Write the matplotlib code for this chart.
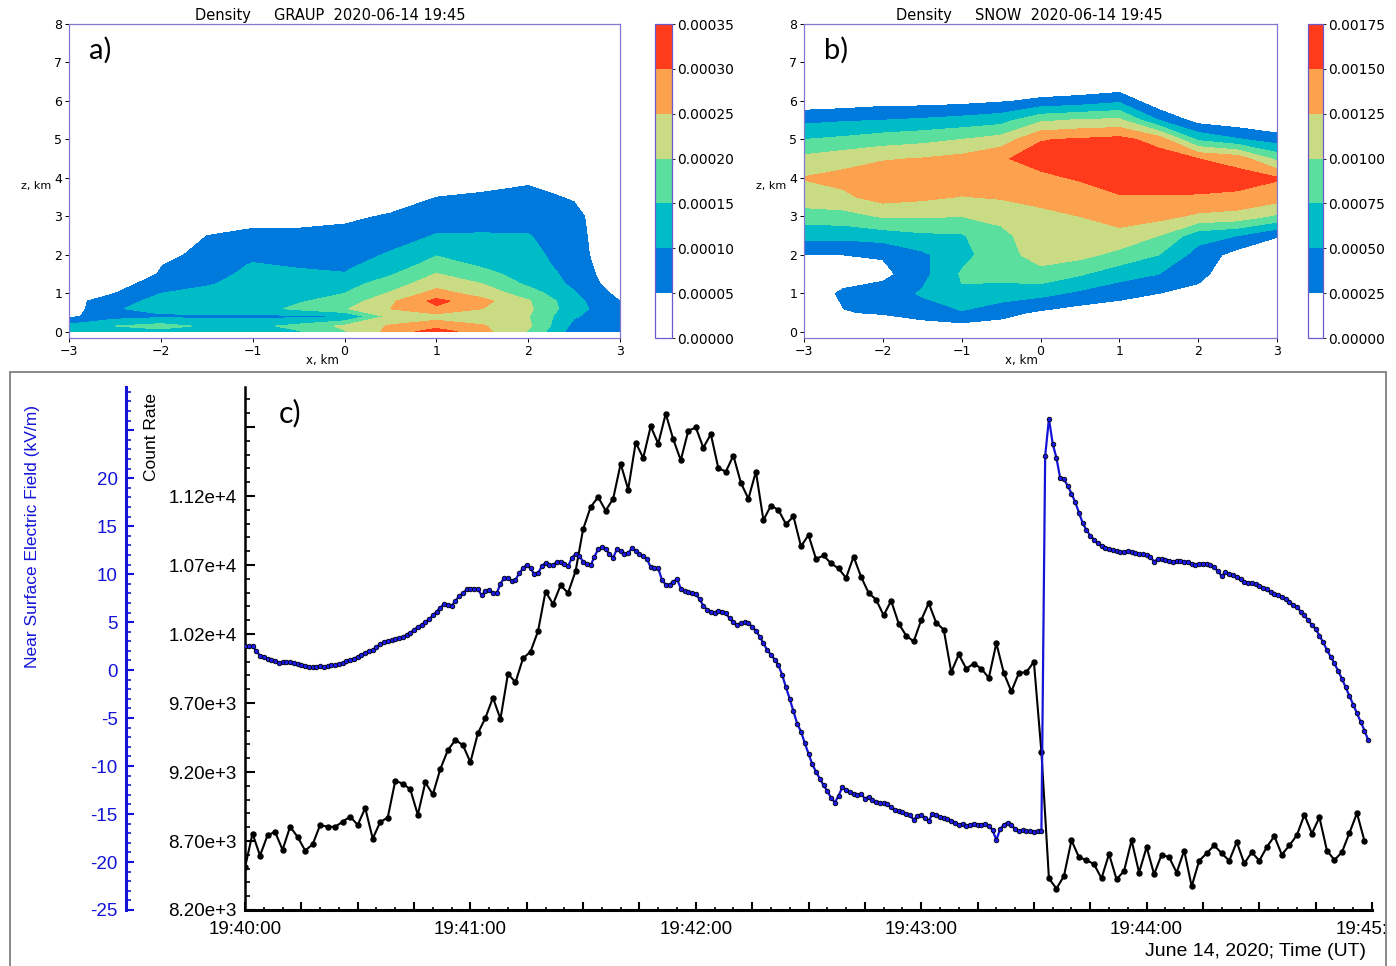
import numpy as np
import matplotlib
matplotlib.use("Agg")
import matplotlib.pyplot as plt
from matplotlib.ticker import MultipleLocator
from matplotlib.patches import Rectangle
from matplotlib.transforms import Bbox, TransformedBbox

# ---------------- panel a / b : density cross sections ----------------
x_km = [-3, -2.5, -2, -1.5, -1, -0.5, 0, 0.5, 1, 1.5, 2, 2.5, 3]

# graupel, in units of 5e-5, one list per x column (bottom -> top)
graup_z = [0, 0.15, 0.4, 0.6, 0.8, 1.0, 1.25, 1.5, 1.75, 2.0, 2.5, 3.0, 3.5, 4.0, 8.0]
graup_cols = [
    [2.6, 2.3, 0.8, 0.5, 0.6, 0.2, 0, 0, 0, 0, 0, 0, 0, 0, 0],
    [2.8, 3.0, 1.6, 1.9, 1.6, 1.0, 0.4, 0, 0, 0, 0, 0, 0, 0, 0],
    [2.6, 3.4, 1.8, 2.4, 2.3, 2.0, 1.7, 1.1, 0.95, 0.6, 0, 0, 0, 0, 0],
    [2.4, 2.8, 1.8, 2.5, 2.5, 2.3, 1.9, 1.7, 1.6, 1.4, 1.0, 0.3, 0, 0, 0],
    [2.4, 2.7, 1.8, 2.6, 2.7, 2.6, 2.4, 2.2, 2.05, 1.8, 1.3, 0.5, 0, 0, 0],
    [2.9, 3.3, 1.8, 3.2, 2.9, 2.6, 2.4, 2.15, 1.9, 1.7, 1.25, 0.6, 0, 0, 0],
    [3.9, 4.2, 2.0, 3.9, 3.4, 3.0, 2.6, 2.05, 1.8, 1.6, 1.3, 0.8, 0, 0, 0],
    [5.3, 5.1, 4.3, 5.0, 4.8, 4.1, 3.5, 2.9, 2.4, 2.1, 1.6, 1.1, 0.5, 0, 0],
    [6.6, 5.6, 4.6, 5.8, 6.3, 5.4, 4.6, 4.05, 3.4, 2.95, 2.05, 1.6, 1.0, 0.3, 0],
    [5.3, 5.1, 4.4, 5.0, 5.3, 4.6, 4.0, 3.3, 2.85, 2.6, 2.05, 1.7, 1.2, 0.4, 0],
    [3.9, 4.2, 4.05, 4.2, 4.1, 3.5, 2.8, 2.6, 2.4, 2.3, 2.05, 1.6, 1.3, 0.8, 0],
    [1.5, 1.7, 2.1, 2.4, 2.3, 2.1, 1.8, 1.7, 1.6, 1.5, 1.4, 1.3, 0.9, 0.3, 0],
    [1.3, 1.3, 1.25, 1.15, 1.0, 0.7, 0.4, 0.2, 0.1, 0, 0, 0, 0, 0, 0],
]
graup_unit = 5e-5
graup_levels = [0, 0.00005, 0.0001, 0.00015, 0.0002, 0.00025, 0.0003, 0.00035]

# snow, in units of 2.5e-4
snow_z = [0, 0.5, 1.0, 1.5, 2.0, 2.5, 3.0, 3.5, 4.0, 4.5, 5.0, 5.5, 6.0, 6.5, 8.0]
snow_cols = [
    [0, 0, 0.2, 0.3, 1.0, 2.3, 3.5, 4.6, 5.05, 4.25, 3.0, 1.75, 0.3, 0, 0],
    [0, 0.95, 1.2, 0.4, 1.0, 2.3, 3.6, 4.8, 5.3, 4.6, 3.2, 1.9, 0.4, 0, 0],
    [0, 1.1, 1.5, 0.7, 1.1, 2.5, 4.1, 5.4, 5.7, 4.9, 3.5, 2.0, 0.6, 0, 0],
    [0, 1.6, 2.1, 1.7, 1.8, 2.8, 4.1, 5.2, 5.8, 5.05, 3.7, 2.15, 0.6, 0, 0],
    [0.2, 1.9, 2.9, 3.1, 2.7, 2.9, 4.0, 4.95, 5.7, 5.3, 4.0, 2.35, 0.7, 0, 0],
    [0.4, 1.3, 2.6, 3.3, 3.6, 3.8, 4.2, 5.1, 5.8, 5.9, 4.4, 2.6, 0.9, 0, 0],
    [0, 0.85, 2.3, 3.7, 4.4, 4.45, 4.6, 5.45, 5.8, 6.35, 5.95, 3.8, 1.2, 0, 0],
    [0, 0.5, 1.8, 3.1, 4.3, 4.6, 5.0, 5.5, 6.1, 6.6, 6.1, 4.1, 1.4, 0, 0],
    [0, 0.3, 1.4, 2.4, 3.7, 4.7, 5.4, 5.9, 6.6, 6.7, 6.3, 4.2, 1.8, 0, 0],
    [0, 0.2, 1.0, 2.0, 3.0, 4.0, 5.3, 5.9, 6.6, 6.5, 5.6, 2.0, 0.2, 0, 0],
    [0, 0, 0.6, 1.4, 1.6, 2.4, 4.8, 5.9, 6.5, 6.0, 2.8, 0.6, 0, 0, 0],
    [0, 0, 0, 0, 0.6, 2.0, 4.6, 5.8, 6.4, 5.6, 2.1, 0.3, 0, 0, 0],
    [0, 0, 0, 0, 0, 1.1, 3.8, 5.5, 6.1, 3.7, 1.5, 0, 0, 0, 0],
]
snow_unit = 2.5e-4
snow_levels = [0, 0.00025, 0.0005, 0.00075, 0.001, 0.00125, 0.0015, 0.00175]

band_colors = ["#ffffff", "#0079dc", "#00bcc6", "#5adf9f", "#c9dc83", "#fca24e", "#ff3b1b"]

# ---------------- panel c : time series ----------------
count_step = 2   # s
count_rate = [
    8508, 8754, 8594, 8742, 8766, 8636, 8803, 8730, 8631, 8675,
    8816, 8803, 8803, 8840, 8877, 8816, 8939, 8717, 8838, 8870,
    9136, 9116, 9074, 8890, 9124, 9037, 9222, 9358, 9432, 9395,
    9271, 9481, 9592, 9739, 9584, 9912, 9850, 10023, 10072, 10220,
    10508, 10417, 10552, 10498, 10656, 10959, 11119, 11193, 11094, 11180,
    11434, 11247, 11587, 11476, 11705, 11579, 11796, 11611, 11459, 11673,
    11697, 11550, 11648, 11402, 11377, 11493, 11296, 11180, 11377, 11025,
    11131, 11099, 10996, 11052, 10835, 10917, 10744, 10769, 10712, 10675,
    10606, 10761, 10614, 10498, 10449, 10335, 10441, 10276, 10188, 10146,
    10301, 10424, 10281, 10232, 9924, 10052, 9949, 9986, 9949, 9882,
    10133, 9917, 9784, 9917, 9924, 9998, 9345, 8429, 8355, 8446,
    8705, 8582, 8562, 8532, 8429, 8606, 8422, 8483, 8705, 8471,
    8656, 8459, 8601, 8582, 8471, 8631, 8372, 8557, 8611, 8668,
    8611, 8557, 8693, 8537, 8619, 8557, 8656, 8735, 8601, 8668,
    8742, 8890, 8754, 8872, 8631, 8562, 8619, 8759, 8902, 8700,
]

field_step = 1   # s
e_field = [
    2.5, 2.5, 2.5, 2.0, 1.5, 1.4, 1.2, 1.1, 0.9, 0.7,
    0.8, 0.8, 0.8, 0.7, 0.6, 0.5, 0.4, 0.3, 0.3, 0.3,
    0.4, 0.3, 0.4, 0.5, 0.5, 0.6, 0.7, 0.9, 1.0, 1.2,
    1.4, 1.6, 1.8, 2.0, 2.1, 2.4, 2.7, 2.9, 3.0, 3.1,
    3.2, 3.3, 3.4, 3.7, 3.9, 4.2, 4.5, 4.7, 5.0, 5.3,
    5.7, 6.1, 6.5, 6.9, 6.8, 6.7, 7.2, 7.7, 8.0, 8.4,
    8.5, 8.5, 8.4, 7.8, 8.2, 8.3, 8.0, 8.0, 9.0, 9.6,
    9.6, 9.3, 9.4, 10.1, 10.6, 11.0, 10.6, 10.0, 10.1, 10.8,
    11.2, 10.9, 10.9, 11.3, 11.3, 11.1, 10.8, 11.7, 12.1, 11.9,
    11.3, 11.1, 10.9, 11.8, 12.6, 12.8, 12.6, 12.1, 11.7, 12.6,
    12.4, 12.1, 12.2, 12.7, 12.4, 12.1, 11.9, 11.6, 10.7, 10.6,
    10.6, 9.4, 8.9, 8.9, 9.2, 9.5, 8.5, 8.2, 8.1, 8.0,
    7.9, 7.4, 6.7, 6.3, 6.1, 6.0, 6.2, 6.1, 5.9, 5.4,
    5.0, 4.7, 4.9, 5.0, 4.9, 4.5, 4.1, 3.5, 2.8, 2.1,
    1.6, 1.1, 0.5, -0.5, -1.8, -3.0, -4.3, -5.6, -6.4, -7.6,
    -8.7, -9.8, -10.6, -11.3, -12.0, -12.6, -13.3, -13.8, -13.1, -12.2,
    -12.5, -12.7, -12.9, -13.0, -12.9, -13.4, -13.2, -13.5, -13.7, -13.8,
    -13.9, -14.0, -14.3, -14.6, -14.7, -14.8, -15.0, -15.1, -15.6, -15.2,
    -15.1, -15.4, -15.7, -15.0, -15.1, -15.3, -15.4, -15.5, -15.7, -15.9,
    -16.1, -16.0, -16.2, -16.1, -16.0, -16.1, -16.1, -16.0, -16.2, -16.7,
    -17.7, -16.6, -16.1, -15.9, -16.1, -16.6, -16.8, -16.7, -16.8, -16.8,
    -16.9, -16.8, -16.8, 22.3, 26.2, 23.6, 22.1, 20.0, 19.9, 19.2,
    18.4, 17.5, 16.4, 15.3, 14.6, 14.0, 13.6, 13.2, 12.9, 12.7,
    12.6, 12.5, 12.4, 12.3, 12.3, 12.4, 12.3, 12.2, 12.1, 12.1,
    12.0, 11.8, 11.3, 11.6, 11.6, 11.5, 11.4, 11.3, 11.4, 11.4,
    11.3, 11.3, 11.1, 11.0, 11.1, 11.1, 11.1, 10.9, 10.7, 10.3,
    9.8, 10.2, 10.0, 9.9, 9.7, 9.5, 9.2, 9.1, 9.1, 9.0,
    8.8, 8.6, 8.4, 8.1, 7.9, 7.8, 7.6, 7.4, 7.1, 6.8,
    6.6, 6.1, 5.7, 5.2, 4.7, 4.3, 3.6, 2.9, 2.1, 1.4,
    0.7, -0.1, -0.9, -1.8, -2.7, -3.6, -4.5, -5.4, -6.3, -7.3,
]

count_ticks = [8200, 8700, 9200, 9700, 10200, 10700, 11200, 11700]
count_labels = ["8.20e+3", "8.70e+3", "9.20e+3", "9.70e+3", "1.02e+4", "1.07e+4", "1.12e+4", ""]
field_ticks = [-25, -20, -15, -10, -5, 0, 5, 10, 15, 20, 25]
field_labels = ["-25", "-20", "-15", "-10", "-5", "0", "5", "10", "15", "20", ""]
minute_labels = ["19:40:00", "19:41:00", "19:42:00", "19:43:00", "19:44:00", "19:45:00"]

W, H = 1396, 966
fig = plt.figure(figsize=(W / 100, H / 100), dpi=100)


def px_axes(x0, y0, x1, y1):
    return fig.add_axes([x0 / W, 1 - y1 / H, (x1 - x0) / W, (y1 - y0) / H])


def density_panel(box, cbox, zs, cols, unit, levels, title, title_x, tag):
    ax = px_axes(*box)
    cax = px_axes(*cbox)
    width = box[2] - box[0]
    field = np.array(cols).T * unit
    cs = ax.contourf(x_km, zs, field, levels=levels, colors=band_colors)
    ax.set_xlim(-3, 3)
    ax.set_ylim(-0.16, 8)
    ax.set_xticks(range(-3, 4))
    ax.set_yticks(range(0, 9))
    ax.tick_params(labelsize=9, length=3, width=0.7, pad=2)
    for s in ax.spines.values():
        s.set_color("#8078d0")
        s.set_linewidth(0.9)
    ax.text((title_x - box[0]) / width, 1.026, title,
            transform=ax.transAxes, ha="center", va="center", fontsize=10.5)
    ax.text(20 / width, 0.915, tag, transform=ax.transAxes, fontsize=21,
            family="Lato", va="center")
    ax.text(-18 / width, 0.484, "z, km", transform=ax.transAxes, ha="right",
            va="center", fontsize=8)
    ax.text(0.46, -0.072, "x, km", transform=ax.transAxes, ha="center",
            va="center", fontsize=8.5)
    cb = fig.colorbar(cs, cax=cax, ticks=levels)
    cb.ax.set_yticklabels([f"{v:.5f}" for v in levels])
    cb.ax.tick_params(labelsize=10, length=2, width=0.6, pad=1.5)
    cb.outline.set_edgecolor("#6a5acd")
    cb.outline.set_linewidth(0.9)
    return ax


density_panel((69, 24, 620, 338), (655, 24, 672, 338), graup_z, graup_cols,
              graup_unit, graup_levels, "Density     GRAUP  2020-06-14 19:45", 330, "a)")
density_panel((804, 24, 1277, 338), (1308, 24, 1323, 338), snow_z, snow_cols,
              snow_unit, snow_levels, "Density     SNOW  2020-06-14 19:45", 1029, "b)")

# frame around panel c
fig.patches.append(Rectangle((10 / W, -10 / H), 1376 / W, (966 + 10 - 372) / H,
                             transform=fig.transFigure, fill=False,
                             edgecolor="#808080", linewidth=1.3))

blue = "#1414d8"
font_c = "Liberation Sans"

ax_c = px_axes(245, 387, 1372, 910)
t_count = np.arange(len(count_rate)) * count_step
t_field = np.arange(len(e_field)) * field_step
ax_c.plot(t_count, count_rate, color="black", lw=1.5, marker="o", ms=3.6, zorder=3)
ax_c.set_xlim(0, 300)
ax_c.set_ylim(8200, 11990)
ax_c.spines[["top", "right"]].set_visible(False)
ax_c.spines["left"].set_linewidth(1.8)
ax_c.spines["bottom"].set_linewidth(2.2)
ax_c.set_yticks(count_ticks, count_labels, fontsize=13.5, fontfamily=font_c)
ax_c.yaxis.set_minor_locator(MultipleLocator(100))
time_ticks = list(range(0, 301, 15))
time_labels = [minute_labels[t // 60] if t % 60 == 0 else "" for t in time_ticks]
ax_c.set_xticks(time_ticks, time_labels, fontsize=13.5, fontfamily=font_c)
ax_c.xaxis.set_minor_locator(MultipleLocator(5))
ax_c.tick_params(which="major", direction="in", length=7, width=1.5, pad=6)
ax_c.tick_params(which="minor", direction="in", length=3.5, width=1.2)
ax_c.tick_params(axis="x", which="major", length=6, pad=8)
ax_c.tick_params(axis="x", which="minor", length=2.5)

ax_e = ax_c.twinx()
ax_e.plot(t_field, e_field, color=blue, lw=1.6, marker="o", ms=3.3,
          mfc="#1c1cf0", mec="black", mew=0.6)
ax_e.set_ylim(-25, 29.5)
ax_e.spines[["top", "bottom", "right"]].set_visible(False)
ax_e.spines["left"].set_visible(True)
ax_e.spines["left"].set_position(("axes", (126 - 245) / (1372 - 245)))
ax_e.spines["left"].set_color(blue)
ax_e.spines["left"].set_linewidth(2.2)
ax_e.yaxis.tick_left()
ax_e.set_yticks(field_ticks, field_labels, fontsize=13.5, fontfamily=font_c, color=blue)
ax_e.yaxis.set_minor_locator(MultipleLocator(1))
ax_e.tick_params(axis="y", which="major", direction="in", length=6, width=1.5,
                 color=blue, pad=6)
ax_e.tick_params(axis="y", which="minor", direction="in", length=3.5, width=1.2,
                 color=blue)

# the last time label is cut by the panel frame
clip = TransformedBbox(Bbox([[0, 0], [1386 / W, 1]]), fig.transFigure)
for lab in ax_c.get_xticklabels():
    lab.set_clip_box(clip)
    lab.set_clip_on(True)

fig.text(33 / W, 1 - 537 / H, "Near Surface Electric Field (kV/m)", rotation=90,
         ha="center", va="center", color=blue, fontsize=12.5, family=font_c)
fig.text(152 / W, 1 - 437 / H, "Count Rate", rotation=90, ha="center",
         va="center", fontsize=12.5, family=font_c)
fig.text(279 / W, 1 - 413 / H, "c)", ha="left", va="center", fontsize=22,
         family="Lato")
fig.text(1366 / W, 1 - 951 / H, "June 14, 2020; Time (UT)", ha="right",
         va="center", fontsize=14, family=font_c)

fig.savefig("out.png", dpi=100)
